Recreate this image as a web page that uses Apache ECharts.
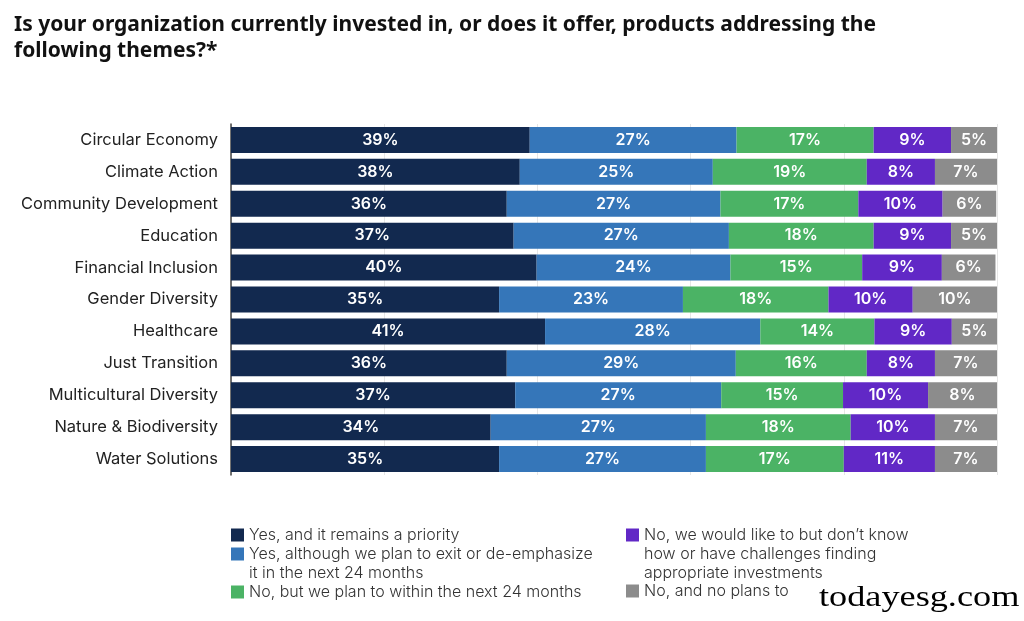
<!DOCTYPE html>
<html>
<head>
<meta charset="utf-8">
<script src="https://cdn.jsdelivr.net/npm/echarts@6/dist/echarts.min.js"></script>
<style>
html,body{margin:0;padding:0;background:#fff;}
#chart{width:1024px;height:621px;}
</style>
</head>
<body>
<div id="chart"></div>
<script>
// ---- Data ----
const categories = ['Circular Economy', 'Climate Action', 'Community Development', 'Education',
  'Financial Inclusion', 'Gender Diversity', 'Healthcare', 'Just Transition',
  'Multicultural Diversity', 'Nature & Biodiversity', 'Water Solutions'];

const seriesNames = [
  'Yes, and it remains a priority',
  'Yes, although we plan to exit or de-emphasize\nit in the next 24 months',
  'No, but we plan to within the next 24 months',
  'No, we would like to but don\u2019t know\nhow or have challenges finding\nappropriate investments',
  'No, and no plans to'
];

// printed percentage labels
const priorityLabel  = [39, 38, 36, 37, 40, 35, 41, 36, 37, 34, 35];
const exitLabel      = [27, 25, 27, 27, 24, 23, 28, 29, 27, 27, 27];
const planLabel      = [17, 19, 17, 18, 15, 18, 14, 16, 15, 18, 17];
const wouldLikeLabel = [9, 8, 10, 9, 9, 10, 9, 8, 10, 10, 11];
const noPlansLabel   = [5, 7, 6, 5, 6, 10, 5, 7, 8, 7, 7];

// segment lengths as drawn (share of full bar, %)
const priorityW  = [39.0, 37.7, 36.0, 36.9, 39.9, 35.0, 41.0, 36.0, 37.1, 33.9, 35.0];
const exitW      = [27.0, 25.2, 27.9, 28.1, 25.3, 24.0, 28.1, 29.9, 26.9, 28.1, 27.0];
const planW      = [17.9, 20.1, 18.0, 18.9, 17.2, 19.0, 14.9, 17.1, 15.9, 18.9, 18.0];
const wouldLikeW = [10.1, 8.9, 11.0, 10.1, 10.4, 11.0, 10.1, 8.9, 11.1, 11.0, 11.9];
const noPlansW   = [6.0, 8.1, 7.0, 6.0, 7.0, 11.1, 6.0, 8.1, 9.0, 8.1, 8.1];

const colors = ['#12294f', '#3576b9', '#4bb365', '#6128c6', '#8c8c8c'];

const widths = [priorityW, exitW, planW, wouldLikeW, noPlansW];
const labels = [priorityLabel, exitLabel, planLabel, wouldLikeLabel, noPlansLabel];

const chart = echarts.init(document.getElementById('chart'));

const series = widths.map((w, si) => ({
  name: seriesNames[si],
  type: 'bar',
  stack: 'total',
  barWidth: 26,
  data: w,
  itemStyle: { color: colors[si] },
  label: {
    show: true,
    position: 'inside',
    color: '#ffffff',
    fontFamily: 'Inter',
    fontWeight: 600,
    fontSize: 16,
    formatter: p => labels[si][p.dataIndex] + '%'
  },
  emphasis: { disabled: true }
}));

// legend: one block per item so the square sits on the first text line
const LH = 19;
const legendLines = [1, 2, 1, 3, 1];
const legendPos = [[231, 525.5], [231, 544.5], [231, 582.5], [626, 525.5], [626, 581.5]];
const legends = seriesNames.map((name, i) => ({
  data: [name],
  left: legendPos[i][0],
  top: legendPos[i][1],
  orient: 'vertical',
  padding: 0,
  itemGap: 0,
  itemWidth: 13,
  itemHeight: legendLines[i] * LH,
  icon: 'path://M0,3h13v13h-13z M0,0 M0,' + (legendLines[i] * LH),
  selectedMode: false,
  textStyle: { fontFamily: 'Inter', fontWeight: 300, fontSize: 16, color: '#333', lineHeight: LH }
}));

chart.setOption({
  animation: false,
  backgroundColor: '#ffffff',
  title: {
    text: 'Is your organization currently invested in, or does it offer, products addressing the\nfollowing themes?*',
    left: 14,
    top: 12,
    padding: 0,
    textStyle: { fontFamily: 'Noto Sans', fontWeight: 'bold', fontSize: 21, lineHeight: 26, color: '#111' }
  },
  legend: legends,
  grid: { left: 231, right: 27, top: 124, bottom: 146, containLabel: false },
  xAxis: {
    type: 'value',
    min: 0,
    max: 100,
    interval: 20,
    axisLabel: { show: false },
    axisLine: { show: false },
    axisTick: { show: false },
    splitLine: { show: true, lineStyle: { color: '#e6e6e6', width: 1 } }
  },
  yAxis: {
    type: 'category',
    inverse: true,
    data: categories,
    axisTick: { show: false },
    axisLine: { show: true, lineStyle: { color: '#444', width: 1.5 } },
    axisLabel: { fontFamily: 'Inter', fontSize: 16.5, color: '#222', margin: 13 }
  },
  graphic: [{
    type: 'text',
    x: 819,
    y: 584,
    scaleX: 1.25,
    style: { text: 'todayesg.com', font: '29px "Liberation Serif"', fill: '#000' }
  }],
  series: series
});
</script>
</body>
</html>
